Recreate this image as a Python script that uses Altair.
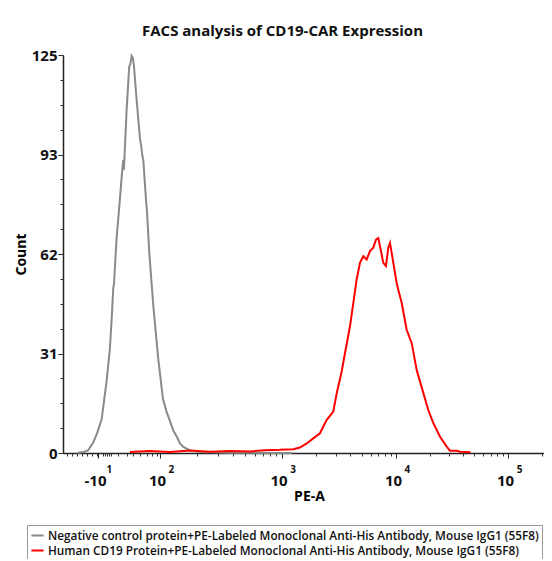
import altair as alt
import pandas as pd
import math

# Display position on the biexponential PE-A axis, in "decade" units
gray_x = [1.280, 1.333, 1.374, 1.420, 1.456, 1.493, 1.537, 1.565, 1.583, 1.594, 1.600,
          1.623, 1.652, 1.670, 1.681, 1.687, 1.693, 1.710, 1.722, 1.733, 1.742, 1.754,
          1.765, 1.774, 1.797, 1.826, 1.839, 1.846, 1.855, 1.878, 1.887, 1.907, 1.942,
          1.985, 2.026, 2.057, 2.087, 2.117, 2.148, 2.174, 2.200, 2.261, 2.348, 2.478,
          2.609, 2.783, 2.960, 3.150]
gray_count = [0.0, 0.3, 0.8, 3.3, 6.5, 10.6, 22.9, 32.9, 44.0, 51.9, 53.0,
              67.5, 79.8, 88.0, 92.1, 89.0, 94.0, 107.7, 115.0, 121.5, 122.0, 124.7,
              124.0, 121.5, 111.0, 98.8, 96.0, 93.5, 92.1, 79.8, 76.0, 63.0, 46.3,
              29.6, 17.0, 13.0, 10.0, 7.0, 5.0, 3.0, 2.0, 0.8, 0.3, 0.2,
              0.1, 0.1, 0.0, 0.0]

red_x = [1.739, 1.913, 2.087, 2.261, 2.435, 2.609, 2.783, 2.913, 3.043, 3.159, 3.217,
         3.276, 3.333, 3.391, 3.450, 3.507, 3.537, 3.580, 3.609, 3.652, 3.681, 3.710,
         3.739, 3.768, 3.797, 3.826, 3.855, 3.878, 3.898, 3.913, 3.942, 3.965, 3.985,
         4.000, 4.029, 4.058, 4.072, 4.102, 4.145, 4.189, 4.232, 4.290, 4.333, 4.377,
         4.435, 4.493, 4.522, 4.580, 4.609, 4.700]
red_count = [0.3, 0.6, 0.3, 0.8, 0.4, 0.6, 0.5, 0.9, 1.0, 1.2, 1.7,
             3.0, 4.6, 6.2, 10.4, 13.0, 18.8, 25.6, 31.4, 39.8, 47.1, 54.5,
             59.7, 61.8, 60.8, 63.4, 64.5, 67.0, 67.5, 65.0, 59.7, 58.7, 64.5,
             66.0, 59.7, 53.4, 51.3, 47.1, 38.7, 34.5, 26.1, 18.8, 13.5, 9.4,
             5.1, 2.0, 0.7, 0.7, 0.4, 0.2]

series_names = [
    "Negative control protein+PE-Labeled Monoclonal Anti-His Antibody, Mouse IgG1 (55F8)",
    "Human CD19 Protein+PE-Labeled Monoclonal Anti-His Antibody, Mouse IgG1 (55F8)",
]
series_colors = ["#8a8a8a", "#ff0000"]

# axis ticks
major_pos = [1.461, 2.0, 3.057, 4.052, 5.026]
major_base = ["-10", "10", "10", "10", "10"]
major_exp = ["1", "2", "3", "4", "5"]
low_minor = [1.189, 1.232, 1.276, 1.319, 1.363, 1.406, 1.450, 1.504, 1.522, 1.539,
             1.557, 1.574, 1.635, 1.710, 1.765, 1.826, 1.884, 1.928, 1.971]
y_major = [0, 31.25, 62.5, 93.75, 125]

minor_x = list(low_minor)
decades = major_pos[1:] + [6.0]
for a, b in zip(decades[:-1], decades[1:]):
    for m in range(2, 10):
        v = a + math.log10(m) * (b - a)
        if v < 5.339:
            minor_x.append(round(v, 4))
y_minor = [125 / 16 * k for k in range(17)]

df = pd.concat([
    pd.DataFrame({"u": gray_x, "count": gray_count, "series": series_names[0]}),
    pd.DataFrame({"u": red_x, "count": red_count, "series": series_names[1]}),
])


def lookup_expr(labels):
    expr = "''"
    for p, lab in reversed(list(zip(major_pos, labels))):
        expr = f"(abs(datum.value - {p}) < 0.001 ? '{lab}' : {expr})"
    return expr


xs = alt.Scale(domain=[1.157, 5.339], nice=False, zero=False)
ys = alt.Scale(domain=[0, 125], nice=False, zero=True)
cs = alt.Scale(domain=series_names, range=series_colors)

FONT = "Open Sans"

main = alt.Chart(df).mark_line(strokeWidth=2).encode(
    x=alt.X("u:Q", scale=xs, axis=alt.Axis(
        orient="bottom", values=major_pos, labelExpr=lookup_expr(major_base),
        title="PE-A", titleFont=FONT, titleFontSize=14, titleFontWeight="bold",
        titlePadding=1, titleX=246,
        labelFont=FONT, labelFontSize=15, labelFontWeight="bold", labelPadding=15,
        labelOffset=-3, labelColor="#111",
        tickSize=5, tickColor="#222", domainColor="#222", domainWidth=1.5, grid=False,
        labelOverlap=False, labelFlush=False)),
    y=alt.Y("count:Q", scale=ys, axis=alt.Axis(
        orient="left", values=y_major, labelExpr="floor(datum.value)",
        title="Count", titleFont=FONT, titleFontSize=14, titleFontWeight="bold",
        titlePadding=3,
        labelFont=FONT, labelFontSize=15, labelFontWeight="bold", labelPadding=1,
        labelColor="#111", tickSize=5, tickColor="#222", domainColor="#222",
        domainWidth=1.5, grid=False, labelOverlap=False, labelFlush=False)),
    color=alt.Color("series:N", scale=cs, legend=alt.Legend(
        orient="none", legendX=-36, legendY=470, title=None,
        labelFont=FONT, labelFontSize=11.8, labelFontWeight=600, labelLimit=600,
        labelColor="#111",
        symbolType="stroke", symbolSize=150, symbolStrokeWidth=2,
        strokeColor="#999999", padding=3, rowPadding=0, labelOffset=3,
        fillColor="white")),
    detail="series:N",
)

exps = alt.Chart(df).mark_line(opacity=0).encode(
    x=alt.X("u:Q", scale=xs, axis=alt.Axis(
        orient="bottom", values=major_pos, labelExpr=lookup_expr(major_exp),
        title=None, labelFont=FONT, labelFontSize=10, labelFontWeight="bold",
        labelPadding=11, labelOffset=11, labelColor="#111", ticks=False, tickSize=0,
        domain=False, grid=False, labelOverlap=False, labelFlush=False)),
    y=alt.Y("count:Q", scale=ys, axis=alt.Axis(
        orient="left", values=y_minor, labels=False, title=None, tickSize=3,
        tickColor="#333", domain=False, grid=False)),
    color=alt.Color("series:N", scale=cs),
)

minor = alt.Chart(df).mark_line(opacity=0).encode(
    x=alt.X("u:Q", scale=xs, axis=alt.Axis(
        orient="bottom", values=minor_x, labels=False, title=None, tickSize=3,
        tickColor="#333", domain=False, grid=False)),
    y=alt.Y("count:Q", scale=ys, axis=None),
    color=alt.Color("series:N", scale=cs),
)

chart = alt.layer(main, exps, minor).resolve_axis(
    x="independent", y="independent"
).properties(
    width=481, height=398,
    title=alt.TitleParams("FACS analysis of CD19-CAR Expression", font=FONT,
                          fontSize=15, fontWeight="bold", anchor="middle",
                          dx=-21, offset=9, color="#111"),
    autosize=alt.AutoSizeParams(type="none"),
    padding={"left": 55, "top": 47, "right": 0, "bottom": 106},
).configure_view(stroke=None)

chart.save("out.html", embed_options={"renderer": "svg", "actions": False})
